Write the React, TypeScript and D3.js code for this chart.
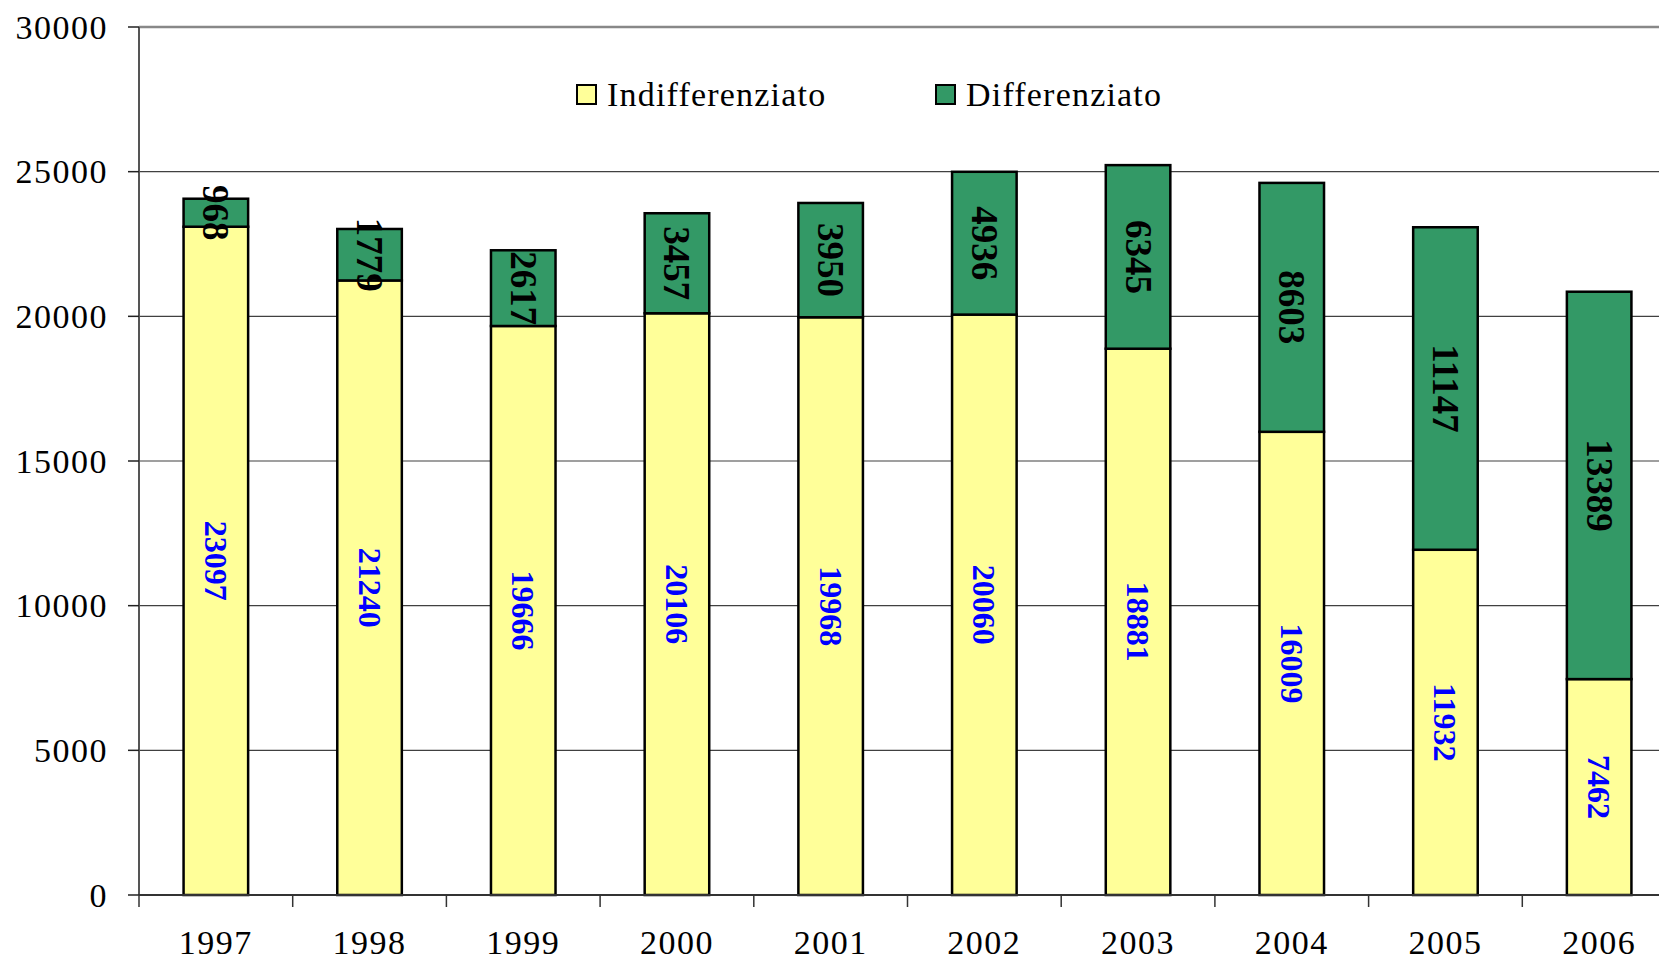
import { useRef, useEffect } from "react";
import * as d3 from "d3";

const years = ["1997", "1998", "1999", "2000", "2001", "2002", "2003", "2004", "2005", "2006"];
const indifferenziato = [23097, 21240, 19666, 20106, 19968, 20060, 18881, 16009, 11932, 7462];
const differenziato = [968, 1779, 2617, 3457, 3950, 4936, 6345, 8603, 11147, 13389];
const yTicks = [0, 5000, 10000, 15000, 20000, 25000, 30000];
const seriesNames = ["Indifferenziato", "Differenziato"];

const YELLOW = "#ffff99";
const GREEN = "#339966";
const FONT = "'Times New Roman', Times, 'Liberation Serif', serif";

export default function App() {
  const svgRef = useRef<SVGSVGElement>(null);

  useEffect(() => {
    if (!svgRef.current) return;
    const svg = d3.select(svgRef.current);
    svg.selectAll("*").remove();

    const width = 1659;
    const height = 961;
    // the plot area runs past the right edge of the picture
    const plot = { left: 139, right: 1676, top: 27, bottom: 895 };

    svg.attr("width", width).attr("height", height);

    const x = d3.scaleBand()
      .domain(years)
      .range([plot.left, plot.right])
      .paddingInner(0.58)
      .paddingOuter(0.29);

    const y = d3.scaleLinear()
      .domain([0, 30000])
      .range([plot.bottom, plot.top]);

    // gridlines
    svg.append("g")
      .selectAll("line")
      .data(yTicks.filter((t) => t > 0 && t < 30000))
      .join("line")
      .attr("x1", plot.left)
      .attr("x2", width)
      .attr("y1", (d) => y(d))
      .attr("y2", (d) => y(d))
      .attr("stroke", "#404040")
      .attr("stroke-width", 1.2);

    // top border
    svg.append("line")
      .attr("x1", plot.left)
      .attr("x2", width)
      .attr("y1", y(30000))
      .attr("y2", y(30000))
      .attr("stroke", "#888")
      .attr("stroke-width", 2.5);

    // y axis
    svg.append("line")
      .attr("x1", plot.left)
      .attr("x2", plot.left)
      .attr("y1", y(30000))
      .attr("y2", y(0))
      .attr("stroke", "#555")
      .attr("stroke-width", 2);

    yTicks.forEach((t) => {
      svg.append("line")
        .attr("x1", plot.left - 11)
        .attr("x2", plot.left)
        .attr("y1", y(t))
        .attr("y2", y(t))
        .attr("stroke", "#222")
        .attr("stroke-width", 1.5);
      svg.append("text")
        .attr("x", 108)
        .attr("y", y(t))
        .attr("text-anchor", "end")
        .attr("dominant-baseline", "central")
        .attr("font-family", FONT)
        .attr("font-size", 34)
        .attr("letter-spacing", 1.5)
        .attr("fill", "#000")
        .text(t);
    });

    // bars
    const step = x.step();
    years.forEach((yr, i) => {
      const bx = x(yr)!;
      const bw = x.bandwidth();
      const a = indifferenziato[i];
      const b = differenziato[i];

      svg.append("rect")
        .attr("x", bx)
        .attr("y", y(a))
        .attr("width", bw)
        .attr("height", y(0) - y(a))
        .attr("fill", YELLOW)
        .attr("stroke", "#000")
        .attr("stroke-width", 2.5);

      svg.append("rect")
        .attr("x", bx)
        .attr("y", y(a + b))
        .attr("width", bw)
        .attr("height", y(a) - y(a + b))
        .attr("fill", GREEN)
        .attr("stroke", "#000")
        .attr("stroke-width", 2.5);
    });

    // x axis
    svg.append("line")
      .attr("x1", plot.left)
      .attr("x2", width)
      .attr("y1", y(0))
      .attr("y2", y(0))
      .attr("stroke", "#333")
      .attr("stroke-width", 2);

    years.forEach((yr, i) => {
      const tx = plot.left + i * step;
      svg.append("line")
        .attr("x1", tx)
        .attr("x2", tx)
        .attr("y1", y(0))
        .attr("y2", y(0) + 12)
        .attr("stroke", "#333")
        .attr("stroke-width", 1.5);
      svg.append("text")
        .attr("x", x(yr)! + x.bandwidth() / 2)
        .attr("y", 954)
        .attr("text-anchor", "middle")
        .attr("font-family", FONT)
        .attr("font-size", 34)
        .attr("letter-spacing", 1.5)
        .attr("fill", "#000")
        .text(yr);
    });

    // value labels (rotated)
    years.forEach((yr, i) => {
      const cx = x(yr)! + x.bandwidth() / 2;
      const a = indifferenziato[i];
      const b = differenziato[i];
      const labels = [
        { v: a, cy: y(a / 2), color: "#0000ff", size: 32 },
        { v: b, cy: y(a + b / 2), color: "#000", size: 37 },
      ];
      labels.forEach((l) => {
        svg.append("text")
          .attr("transform", `translate(${cx},${l.cy}) rotate(90)`)
          .attr("text-anchor", "middle")
          .attr("dominant-baseline", "central")
          .attr("font-family", FONT)
          .attr("font-size", l.size)
          .attr("font-weight", "bold")
          .attr("fill", l.color)
          .text(l.v);
      });
    });

    // legend
    const legend = [
      { name: seriesNames[0], color: YELLOW, x: 577 },
      { name: seriesNames[1], color: GREEN, x: 936 },
    ];
    legend.forEach((d) => {
      svg.append("rect")
        .attr("x", d.x)
        .attr("y", 85)
        .attr("width", 19)
        .attr("height", 19)
        .attr("fill", d.color)
        .attr("stroke", "#000")
        .attr("stroke-width", 2);
      svg.append("text")
        .attr("x", d.x + 30)
        .attr("y", 94)
        .attr("dominant-baseline", "central")
        .attr("font-family", FONT)
        .attr("font-size", 34)
        .attr("letter-spacing", 1.2)
        .attr("fill", "#000")
        .text(d.name);
    });
  }, []);

  return (
    <div style={{ position: "absolute", left: 0, top: 0, background: "#fff" }}>
      <svg ref={svgRef} style={{ display: "block" }} />
    </div>
  );
}
